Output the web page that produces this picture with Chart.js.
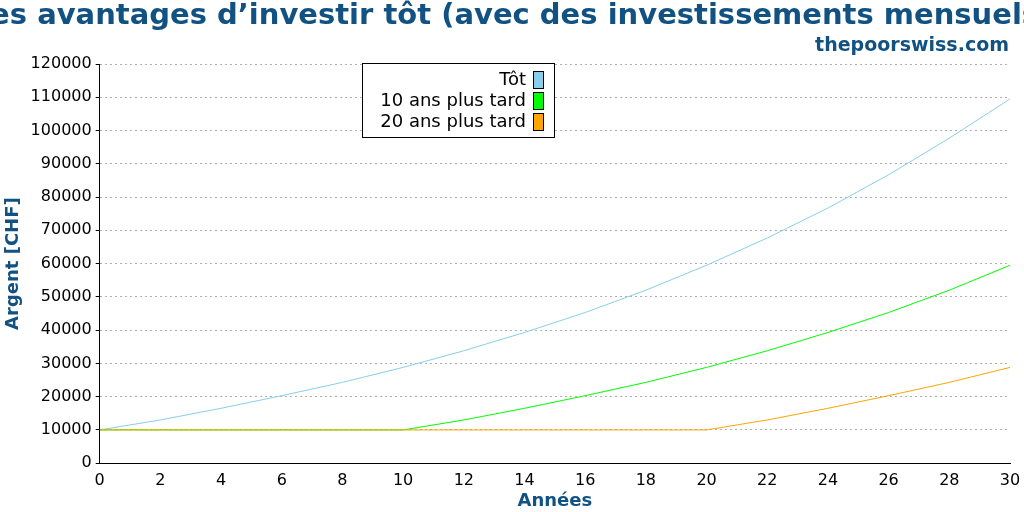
<!DOCTYPE html>
<html>
<head>
<meta charset="utf-8">
<script src="https://cdn.jsdelivr.net/npm/chart.js@4"></script>
<style>
  body { margin: 0; background: #fff; }
</style>
</head>
<body>
<canvas id="chart" width="1024" height="512"></canvas>
<script>
const years = [0, 2, 4, 6, 8, 10, 12, 14, 16, 18, 20, 22, 24, 26, 28, 30];
const early = [10000, 13000, 16500, 20300, 24300, 28800, 33800, 39300, 45300, 52000, 59500, 67700, 76700, 86700, 97700, 109500];
const later10 = [10000, 10000, 10000, 10000, 10000, 10000, 13000, 16500, 20300, 24300, 28800, 33800, 39300, 45300, 52000, 59500];
const later20 = [10000, 10000, 10000, 10000, 10000, 10000, 10000, 10000, 10000, 10000, 10000, 13000, 16500, 20300, 24300, 28800];
const seriesNames = ['Tôt', '10 ans plus tard', '20 ans plus tard'];
const seriesColors = ['#87ceeb', '#00ff00', '#ffa500'];

const blue = '#125283';
const font = 'DejaVu Sans';

function points(values) {
    return years.map((x, i) => ({ x: x, y: values[i] }));
}

// titles and boxed legend drawn by hand, like the original
const decorations = {
    id: 'decorations',
    afterDraw(chart) {
        const ctx = chart.ctx;
        ctx.save();
        ctx.fillStyle = blue;
        ctx.font = 'bold 29px "' + font + '"';
        ctx.textAlign = 'center';
        ctx.textBaseline = 'middle';
        ctx.fillText('Les avantages d\u2019investir tôt (avec des investissements mensuels)', 512, 16);
        ctx.font = 'bold 19px "' + font + '"';
        ctx.textAlign = 'right';
        ctx.fillText('thepoorswiss.com', 1009, 46);

        // legend
        const lx = 362, ly = 63, lw = 192, lh = 74;
        ctx.fillStyle = '#fff';
        ctx.fillRect(lx, ly, lw, lh);
        ctx.strokeStyle = '#000';
        ctx.lineWidth = 1;
        ctx.strokeRect(lx + 0.5, ly + 0.5, lw, lh);
        ctx.font = '18px "' + font + '"';
        ctx.textAlign = 'right';
        chart.data.datasets.forEach((ds, i) => {
            const cy = ly + 17 + i * 21;
            ctx.fillStyle = '#000';
            ctx.fillText(ds.label, lx + 164, cy);
            ctx.fillStyle = ds.borderColor;
            ctx.fillRect(lx + 171, cy - 9, 10, 17);
            ctx.strokeRect(lx + 171.5, cy - 8.5, 10, 17);
        });
        ctx.restore();
    }
};

new Chart(document.getElementById('chart'), {
    type: 'line',
    data: {
        datasets: seriesNames.map((name, i) => ({
            label: name,
            data: points([early, later10, later20][i]),
            borderColor: seriesColors[i],
            backgroundColor: seriesColors[i],
            borderWidth: 1,
            pointRadius: 0,
            tension: 0,
            order: 3 - i
        }))
    },
    options: {
        responsive: false,
        animation: false,
        devicePixelRatio: 1,
        layout: { padding: { top: 64, right: 14, left: 1, bottom: 0 } },
        plugins: { legend: { display: false }, tooltip: { enabled: false } },
        scales: {
            x: {
                type: 'linear', min: 0, max: 30,
                ticks: { stepSize: 2, autoSkip: false, maxRotation: 0, color: '#000', font: { family: font, size: 16 }, padding: 0 },
                grid: { display: false },
                border: { color: '#000' },
                title: { display: true, text: 'Années', color: blue, font: { family: font, size: 18, weight: 'bold' }, padding: 0 }
            },
            y: {
                min: 0, max: 120000,
                ticks: { stepSize: 10000, autoSkip: false, color: '#000', font: { family: font, size: 16 }, padding: 4,
                    callback: v => String(v) },
                grid: { color: '#b0b0b0', drawTicks: true, tickLength: 4, tickColor: '#000' },
                border: { color: '#000', dash: [2, 3] },
                title: { display: true, text: 'Argent [CHF]', color: blue, font: { family: font, size: 18, weight: 'bold' }, padding: 2 }
            }
        }
    },
    plugins: [decorations]
});
</script>
</body>
</html>
